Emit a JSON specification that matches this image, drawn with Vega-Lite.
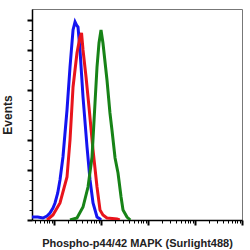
{
  "$schema": "https://vega.github.io/schema/vega-lite/v6.json",
  "width": 210,
  "height": 211,
  "autosize": "none",
  "padding": {"left": 32, "top": 9, "right": 8, "bottom": 30},
  "background": "white",
  "config": {"view": {"stroke": "#777", "strokeWidth": 1}},
  "data": {"values": [
    {"x": 3.4, "y": 3, "s": "blue"}, {"x": 4.5, "y": 3, "s": "blue"}, {"x": 5.8, "y": 2, "s": "blue"}, {"x": 7.1, "y": 4, "s": "blue"}, {"x": 8.2, "y": 7, "s": "blue"}, {"x": 9.5, "y": 12, "s": "blue"}, {"x": 10.5, "y": 17, "s": "blue"}, {"x": 12, "y": 27, "s": "blue"}, {"x": 13.4, "y": 40, "s": "blue"}, {"x": 15.5, "y": 63, "s": "blue"}, {"x": 17, "y": 85, "s": "blue"}, {"x": 18.9, "y": 110, "s": "blue"}, {"x": 21.9, "y": 153, "s": "blue"}, {"x": 25.4, "y": 190, "s": "blue"}, {"x": 28, "y": 198, "s": "blue"}, {"x": 30, "y": 195, "s": "blue"}, {"x": 32.4, "y": 193, "s": "blue"}, {"x": 35.7, "y": 170, "s": "blue"}, {"x": 41.4, "y": 123, "s": "blue"}, {"x": 50.4, "y": 73, "s": "blue"}, {"x": 58.4, "y": 40, "s": "blue"}, {"x": 67.6, "y": 17, "s": "blue"}, {"x": 82.2, "y": 3, "s": "blue"}, {"x": 95.2, "y": 1, "s": "blue"}, {"x": 100, "y": 0, "s": "blue"},
    {"x": 7.1, "y": 0, "s": "red"}, {"x": 9.5, "y": 5, "s": "red"}, {"x": 13.4, "y": 17, "s": "red"}, {"x": 18.9, "y": 43, "s": "red"}, {"x": 21.9, "y": 80, "s": "red"}, {"x": 25.4, "y": 133, "s": "red"}, {"x": 30.8, "y": 167, "s": "red"}, {"x": 35.7, "y": 183, "s": "red"}, {"x": 38.5, "y": 187, "s": "red"}, {"x": 41.4, "y": 170, "s": "red"}, {"x": 48, "y": 143, "s": "red"}, {"x": 55.5, "y": 113, "s": "red"}, {"x": 67.6, "y": 70, "s": "red"}, {"x": 82.2, "y": 33, "s": "red"}, {"x": 95.2, "y": 10, "s": "red"}, {"x": 110, "y": 5, "s": "red"}, {"x": 134, "y": 2, "s": "red"}, {"x": 219, "y": 1, "s": "red"}, {"x": 250, "y": 0, "s": "red"},
    {"x": 21.9, "y": 0, "s": "green"}, {"x": 30.8, "y": 2, "s": "green"}, {"x": 41.4, "y": 13, "s": "green"}, {"x": 52.9, "y": 33, "s": "green"}, {"x": 64.4, "y": 63, "s": "green"}, {"x": 74.5, "y": 117, "s": "green"}, {"x": 82.2, "y": 153, "s": "green"}, {"x": 90.6, "y": 177, "s": "green"}, {"x": 100, "y": 190, "s": "green"}, {"x": 110, "y": 177, "s": "green"}, {"x": 134, "y": 140, "s": "green"}, {"x": 155, "y": 107, "s": "green"}, {"x": 171, "y": 90, "s": "green"}, {"x": 199, "y": 62, "s": "green"}, {"x": 230, "y": 47, "s": "green"}, {"x": 267, "y": 23, "s": "green"}, {"x": 294, "y": 10, "s": "green"}, {"x": 357, "y": 3, "s": "green"}, {"x": 420, "y": 0, "s": "green"}
  ]},
  "mark": {"type": "line", "strokeWidth": 3, "clip": true},
  "encoding": {
    "x": {
      "field": "x", "type": "quantitative",
      "scale": {"type": "log", "domain": [3.4, 100000], "nice": false},
      "axis": {
        "title": "Phospho-p44/42 MAPK (Surlight488)",
        "titleFont": "Liberation Sans", "titleFontSize": 11, "titleFontWeight": "bold", "titleColor": "#222",
        "titlePadding": 11,
        "labels": false, "grid": false,
        "values": [4,5,6,7,8,9,10,20,30,40,50,60,70,80,90,100,200,300,400,500,600,700,800,900,1000,2000,3000,4000,5000,6000,7000,8000,9000,10000,20000,30000,40000,50000,60000,70000,80000,90000,100000],
        "tickColor": "#000", "domainColor": "#000", "domainWidth": 1.5,
        "tickSize": {"condition": {"test": "indexof([10,100,1000,10000,100000], datum.value) >= 0", "value": 5}, "value": 3},
        "tickWidth": {"condition": {"test": "indexof([10,100,1000,10000,100000], datum.value) >= 0", "value": 2}, "value": 1}
      }
    },
    "y": {
      "field": "y", "type": "quantitative",
      "scale": {"domain": [0, 211], "nice": false},
      "axis": {
        "title": "Events",
        "titleFont": "Liberation Sans", "titleFontSize": 12, "titleFontWeight": "bold", "titleColor": "#222",
        "titlePadding": 12,
        "labels": false, "grid": false,
        "values": [0,10,20,30,40,50,60,70,80,90,100,110,120,130,140,150,160,170,180,190,200],
        "tickColor": "#000", "domainColor": "#000", "domainWidth": 1.5,
        "tickSize": {"condition": {"test": "indexof([0,50,80,130,170,200], datum.value) >= 0", "value": 5}, "value": 3},
        "tickWidth": {"condition": {"test": "indexof([0,50,80,130,170,200], datum.value) >= 0", "value": 2}, "value": 1}
      }
    },
    "color": {
      "field": "s", "type": "nominal",
      "scale": {"domain": ["red", "blue", "green"], "range": ["#e8141c", "#1414f0", "#178317"]},
      "legend": null
    },
    "order": {"field": "x", "type": "quantitative"}
  }
}
